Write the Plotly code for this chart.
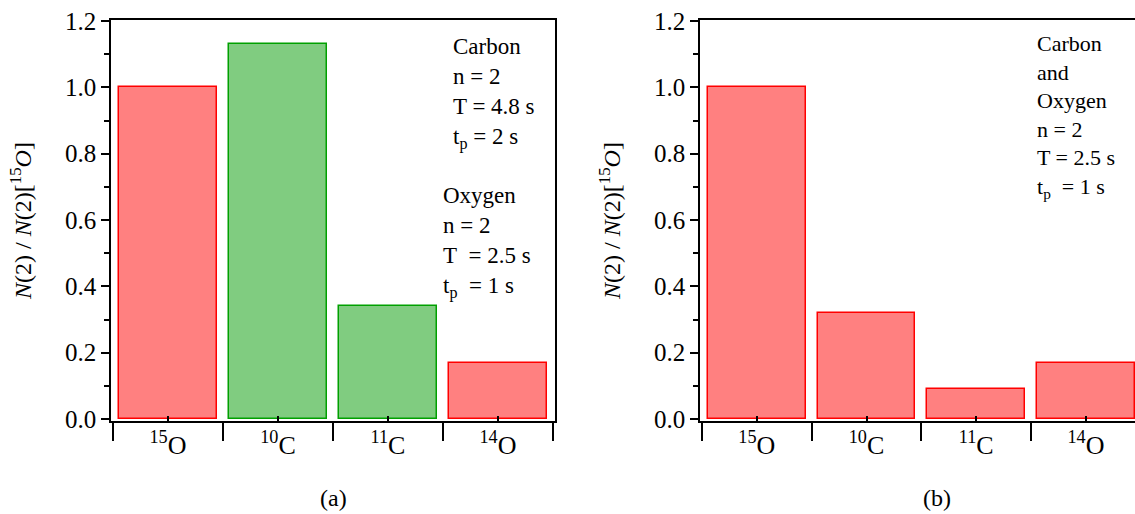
import plotly.graph_objects as go

# ---- data ----
categories = ["<sup>15</sup>O", "<sup>10</sup>C", "<sup>11</sup>C", "<sup>14</sup>O"]
values_a = [1.0, 1.13, 0.34, 0.17]
element_a = ["O", "C", "C", "O"]
values_b = [1.0, 0.32, 0.09, 0.17]
element_b = ["O", "O", "O", "O"]
y_ticks = [0.0, 0.2, 0.4, 0.6, 0.8, 1.0, 1.2]

FILL = {"O": "#FF8080", "C": "#80CC80"}
EDGE = {"O": "#FF0000", "C": "#00A000"}

W, H = 1135, 514
FONT = "Liberation Serif, DejaVu Serif, serif"


def px_x(p):
    return p / W


def px_y(p):
    return 1 - p / H


fig = go.Figure()
fig.add_trace(go.Bar(
    x=categories, y=values_a, xaxis="x", yaxis="y", width=0.89,
    marker=dict(color=[FILL[e] for e in element_a],
                line=dict(color=[EDGE[e] for e in element_a], width=1.5)),
    showlegend=False,
))
fig.add_trace(go.Bar(
    x=categories, y=values_b, xaxis="x2", yaxis="y2", width=0.89,
    marker=dict(color=[FILL[e] for e in element_b],
                line=dict(color=[EDGE[e] for e in element_b], width=1.5)),
    showlegend=False,
))

ytitle = "<i>N</i>(2) / <i>N</i>(2)[<sup>15</sup><i>O</i>]"

yr = [-0.006, 1.203]
ydom = [px_y(421), px_y(20)]


def xaxis_cfg(domain, rng, mirror=True):
    return dict(
        domain=domain, type="category", range=rng, categoryorder="array",
        categoryarray=categories, tickson="boundaries", ticks="outside",
        ticklen=18, tickwidth=1.5, tickcolor="black", automargin=False,
        showline=True, linecolor="black", linewidth=1.5, mirror=mirror,
        showgrid=False, zeroline=False,
        tickfont=dict(family=FONT, size=26, color="black"),
    )


def yaxis_cfg(anchor, mirror):
    return dict(
        domain=ydom, anchor=anchor, range=yr, tickvals=y_ticks,
        tickformat=".1f", ticks="outside", ticklen=8, tickwidth=1.5,
        tickcolor="black", showline=True, linecolor="black", linewidth=1.5,
        mirror=mirror, showgrid=False, zeroline=False, automargin=False,
        minor=dict(dtick=0.1, ticks="outside", ticklen=5, tickwidth=1.5,
                   tickcolor="black", showgrid=False),
        tickfont=dict(family=FONT, size=25, color="black"),
        title=dict(text=ytitle, font=dict(family=FONT, size=24, color="black"),
                   standoff=27),
    )


xr_a = [-0.518, 3.518]
xr_b = [-0.518, 3.447]
dom_a = [px_x(111), px_x(555)]
dom_b = [px_x(700), 1.0]

fig.update_layout(
    width=W, height=H, margin=dict(l=0, r=0, t=0, b=0),
    paper_bgcolor="white", plot_bgcolor="white",
    font=dict(family=FONT, color="black"),
    bargap=0,
    xaxis=dict(anchor="y", **xaxis_cfg(dom_a, xr_a)),
    yaxis=yaxis_cfg("x", True),
    xaxis2=dict(anchor="y2", **xaxis_cfg(dom_b, xr_b)),
    yaxis2=yaxis_cfg("x2", False),
    # short inward ticks at category centres
    xaxis3=dict(domain=dom_a, anchor="y", overlaying="x", side="bottom",
                range=xr_a, tickvals=[0, 1, 2, 3], ticks="inside", ticklen=5,
                tickwidth=1.5, tickcolor="black", showticklabels=False,
                showgrid=False, zeroline=False, showline=False, automargin=False),
    xaxis4=dict(domain=dom_b, anchor="y2", overlaying="x2", side="bottom",
                range=xr_b, tickvals=[0, 1, 2, 3], ticks="inside", ticklen=5,
                tickwidth=1.5, tickcolor="black", showticklabels=False,
                showgrid=False, zeroline=False, showline=False, automargin=False),
)

fig.add_trace(go.Scatter(x=[None], y=[None], xaxis="x3", yaxis="y", showlegend=False, hoverinfo="skip"))
fig.add_trace(go.Scatter(x=[None], y=[None], xaxis="x4", yaxis="y2", showlegend=False, hoverinfo="skip"))

ann_font = dict(family=FONT, size=23, color="black")
annotations = [
    dict(text="Carbon<br>n = 2<br>T = 4.8 s<br>t<sub>p</sub> = 2 s",
         x=px_x(451), y=px_y(32), xanchor="left", yanchor="top", align="left",
         font=ann_font),
    dict(text="Oxygen<br>n = 2<br>T&nbsp; = 2.5 s<br>t<sub>p</sub>&nbsp; = 1 s",
         x=px_x(441), y=px_y(181), xanchor="left", yanchor="top", align="left",
         font=ann_font),
    dict(text="Carbon<br>and<br>Oxygen<br>n = 2<br>T = 2.5 s<br>t<sub>p</sub>&nbsp; = 1 s",
         x=px_x(1035), y=px_y(29), xanchor="left", yanchor="top", align="left",
         font=dict(family=FONT, size=22, color="black")),
    dict(text="(a)", x=px_x(333), y=px_y(498), xanchor="center", yanchor="middle",
         font=dict(family=FONT, size=24, color="black")),
    dict(text="(b)", x=px_x(937), y=px_y(498), xanchor="center", yanchor="middle",
         font=dict(family=FONT, size=24, color="black")),
]
for a in annotations:
    a.update(xref="paper", yref="paper", showarrow=False)
fig.update_layout(annotations=annotations)

fig.write_html("out.html", config={"displayModeBar": False},
               post_script="document.body.style.margin='0px';")
